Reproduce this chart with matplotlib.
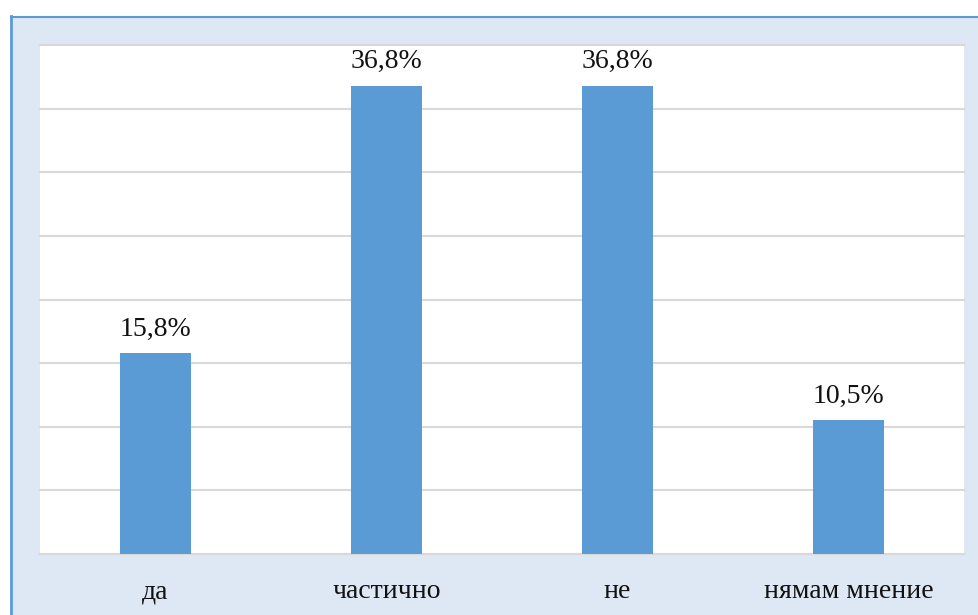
import matplotlib
import matplotlib.pyplot as plt
from matplotlib.patches import Rectangle

plt.switch_backend("agg")
plt.rcParams["font.family"] = ["Liberation Serif", "DejaVu Serif"]

categories = ["да", "частично", "не", "нямам мнение"]
values = [15.8, 36.8, 36.8, 10.5]
labels = ["15,8%", "36,8%", "36,8%", "10,5%"]

BAR_COLOR = "#5b9bd5"
PANEL_COLOR = "#dee8f4"
BORDER_COLOR = "#5b9bd5"
GRID_COLOR = "#d9d9d9"

W, H = 979, 615
fig = plt.figure(figsize=(W / 100, H / 100), dpi=100)
fig.patch.set_facecolor("white")

# light-blue panel with border on left and top (behind the axes)
fig.patches.append(Rectangle((11 / W, 0), 1, (H - 16) / H, transform=fig.transFigure,
                             facecolor=PANEL_COLOR, edgecolor="none", zorder=-2))
fig.lines.append(plt.Line2D([11 / W, 11 / W], [0, (H - 16) / H], transform=fig.transFigure,
                            color=BORDER_COLOR, linewidth=2.0, zorder=-1))
fig.lines.append(plt.Line2D([11 / W, 1], [(H - 16.5) / H, (H - 16.5) / H], transform=fig.transFigure,
                            color=BORDER_COLOR, linewidth=1.5, zorder=-1))

ax = fig.add_axes([40 / W, (H - 554) / H, 924 / W, 509 / H])
ax.set_facecolor("white")

x = range(len(categories))
ax.bar(x, values, width=0.31, color=BAR_COLOR, zorder=3)
for xi, v, lab in zip(x, values, labels):
    ax.annotate(lab, (xi, v), xytext=(0, 12.5), textcoords="offset points",
                ha="center", va="baseline", fontsize=20, color="#111111")

ax.set_xlim(-0.5, len(categories) - 0.5)
ax.set_ylim(0, 40)
ax.set_yticks(range(0, 41, 5))
ax.set_yticklabels([])
ax.yaxis.grid(True, color=GRID_COLOR, linewidth=1.5, zorder=0)
for gl in ax.get_ygridlines():
    gl.set_clip_on(False)
ax.tick_params(axis="y", length=0)
ax.set_xticks(list(x))
ax.set_xticklabels(categories, fontsize=20, color="#111111")
ax.tick_params(axis="x", length=0, pad=18)

for side in ["top", "right", "left"]:
    ax.spines[side].set_visible(False)
ax.spines["bottom"].set_color(GRID_COLOR)
ax.spines["bottom"].set_linewidth(1.5)

fig.savefig("out.png", dpi=100)
